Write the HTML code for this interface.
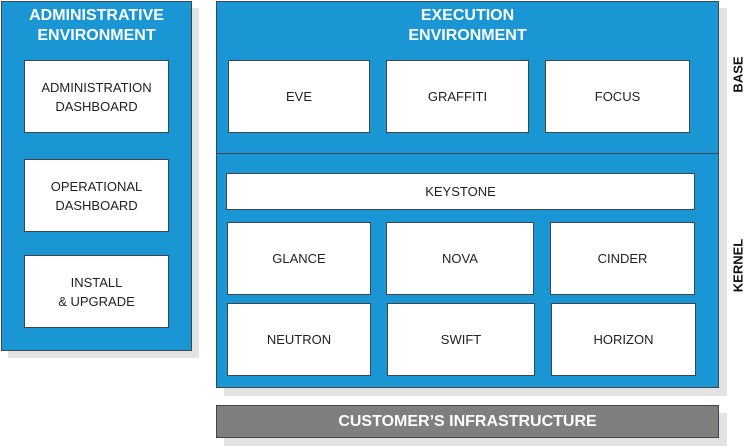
<!DOCTYPE html>
<html><head><style>
body{margin:0;width:750px;height:446px;background:#fff;position:relative;overflow:hidden;font-family:"Liberation Sans",sans-serif}
div{position:absolute;box-sizing:border-box}
.sh{background:#e3e3e3}
.bl{background:#1b96d4;border:1px solid #3b4650}
.w{background:#fff;border:1px solid #3b4650;display:flex;align-items:center;justify-content:center;text-align:center;font-size:13px;color:#222;line-height:19px}
.t{color:#fff;font-weight:bold;font-size:16px;text-align:center;line-height:20px}
.r{transform:rotate(-90deg);font-weight:bold;font-size:13px;color:#111;white-space:nowrap;text-align:center;width:80px}
</style></head><body>
<div class="sh" style="left:8px;top:8px;width:191px;height:350px"></div>
<div class="bl" style="left:1px;top:1px;width:191px;height:350px"></div>
<div class="t" style="left:1px;top:6px;width:191px">ADMINISTRATIVE<br>ENVIRONMENT</div>
<div class="w" style="left:24px;top:60px;width:145px;height:73px">ADMINISTRATION<br>DASHBOARD</div>
<div class="w" style="left:24px;top:159px;width:145px;height:73px">OPERATIONAL<br>DASHBOARD</div>
<div class="w" style="left:24px;top:255px;width:145px;height:73px">INSTALL<br>&amp; UPGRADE</div>

<div class="sh" style="left:224px;top:8px;width:503px;height:388px"></div>
<div class="bl" style="left:216px;top:1px;width:503px;height:387px"></div>
<div style="left:216px;top:153px;width:503px;height:1px;background:#3b4650"></div>
<div class="t" style="left:216px;top:6px;width:503px">EXECUTION<br>ENVIRONMENT</div>
<div class="w" style="left:228px;top:60px;width:142px;height:73px">EVE</div>
<div class="w" style="left:386px;top:60px;width:143px;height:73px">GRAFFITI</div>
<div class="w" style="left:545px;top:60px;width:145px;height:73px">FOCUS</div>
<div class="w" style="left:226px;top:173px;width:469px;height:37px">KEYSTONE</div>
<div class="w" style="left:227px;top:222px;width:144px;height:73px">GLANCE</div>
<div class="w" style="left:386px;top:222px;width:148px;height:73px">NOVA</div>
<div class="w" style="left:550px;top:222px;width:145px;height:73px">CINDER</div>
<div class="w" style="left:227px;top:303px;width:144px;height:73px">NEUTRON</div>
<div class="w" style="left:387px;top:303px;width:148px;height:73px">SWIFT</div>
<div class="w" style="left:551px;top:303px;width:145px;height:73px">HORIZON</div>

<div class="sh" style="left:224px;top:413px;width:503px;height:33px"></div>
<div style="left:216px;top:405px;width:503px;height:33px;background:#7f7f7f;border:1px solid #3b4650;color:#fff;font-weight:bold;font-size:16px;text-align:center;line-height:31px">CUSTOMER’S INFRASTRUCTURE</div>

<div class="r" style="left:698px;top:67px">BASE</div>
<div class="r" style="left:698px;top:258px">KERNEL</div>
</body></html>
